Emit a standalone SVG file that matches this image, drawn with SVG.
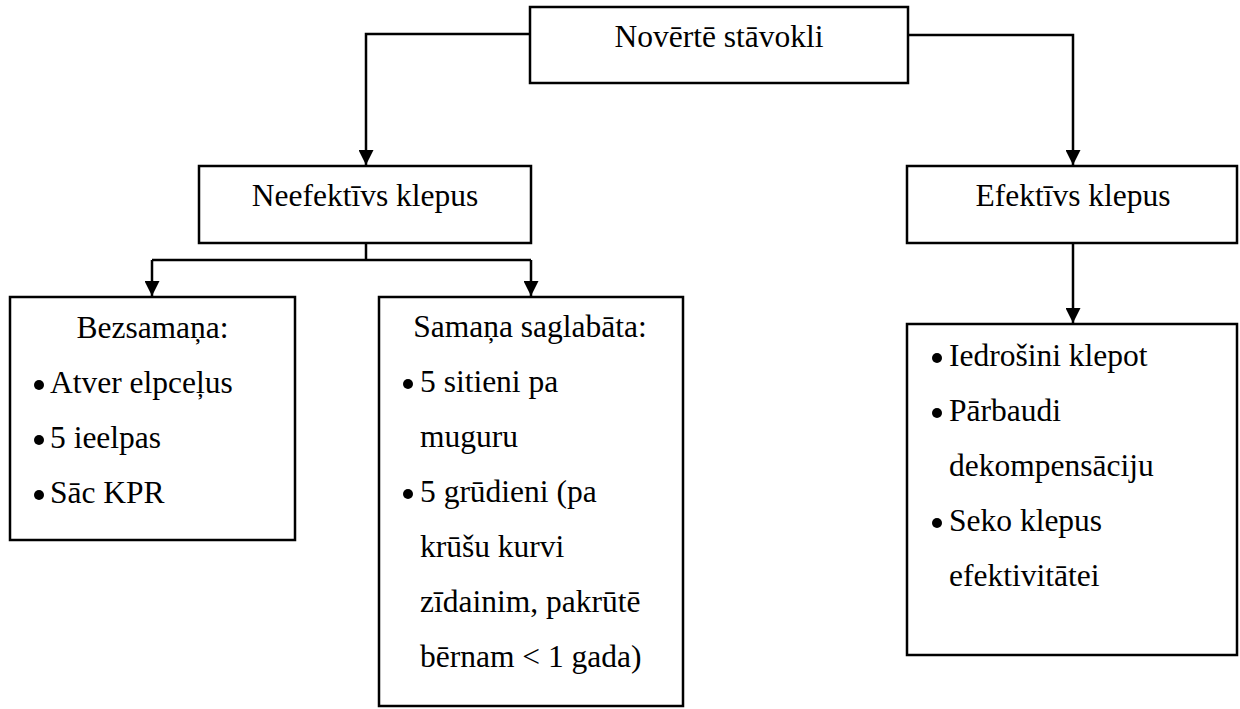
<svg xmlns="http://www.w3.org/2000/svg" width="1240" height="709" viewBox="0 0 1240 709">
  <style>
    .box { fill: #ffffff; stroke: #000000; stroke-width: 2.5; }
    .lbl { font-family: 'Liberation Serif', 'Times New Roman', serif; font-size: 31.5px; fill: #000000; }
    .mid { text-anchor: middle; }
    .wire { fill: none; stroke: #000000; stroke-width: 2.5; }
    .dot { fill: #000000; }
  </style>
  <defs>
    <marker id="arrow" markerWidth="15" markerHeight="15" viewBox="0 0 15 15" refX="15" refY="7.5" orient="auto" markerUnits="userSpaceOnUse">
      <path d="M0,0 L15,7.5 L0,15 Z" fill="#000000"/>
    </marker>
  </defs>

  <!-- connectors -->
  <g id="connectors">
    <path class="wire" d="M530,34 H366 V165" marker-end="url(#arrow)"/>
    <path class="wire" d="M908,35 H1073 V165" marker-end="url(#arrow)"/>
    <path class="wire" d="M366,224 V260"/>
    <path class="wire" d="M152,260 H531"/>
    <path class="wire" d="M152,260 V296" marker-end="url(#arrow)"/>
    <path class="wire" d="M531,260 V296" marker-end="url(#arrow)"/>
    <path class="wire" d="M1073,224 V323" marker-end="url(#arrow)"/>
  </g>

  <!-- root -->
  <g id="assess">
    <rect class="box" x="530" y="7" width="378" height="76"/>
    <text class="lbl mid" x="719" y="47">Novērtē stāvokli</text>
  </g>

  <g id="ineffective">
    <rect class="box" x="199" y="166" width="332" height="77"/>
    <text class="lbl mid" x="365" y="206">Neefektīvs klepus</text>
  </g>

  <g id="effective">
    <rect class="box" x="907" y="166" width="330" height="77"/>
    <text class="lbl mid" x="1073" y="206">Efektīvs klepus</text>
  </g>

  <!-- unconscious -->
  <g id="unconscious">
    <rect class="box" x="10" y="297" width="285" height="243"/>
    <text class="lbl mid" x="152.5" y="338">Bezsamaņa:</text>
    <circle class="dot" cx="39" cy="385" r="5"/>
    <text class="lbl" x="50" y="393">Atver elpceļus</text>
    <circle class="dot" cx="39" cy="440" r="5"/>
    <text class="lbl" x="50" y="448">5 ieelpas</text>
    <circle class="dot" cx="39" cy="495" r="5"/>
    <text class="lbl" x="50" y="503">Sāc KPR</text>
  </g>

  <!-- conscious -->
  <g id="conscious">
    <rect class="box" x="379" y="297" width="304" height="409"/>
    <text class="lbl mid" x="530" y="337">Samaņa saglabāta:</text>
    <circle class="dot" cx="408" cy="384" r="5"/>
    <text class="lbl" x="420" y="392">5 sitieni pa</text>
    <text class="lbl" x="420" y="447">muguru</text>
    <circle class="dot" cx="408" cy="494" r="5"/>
    <text class="lbl" x="420" y="502">5 grūdieni (pa</text>
    <text class="lbl" x="420" y="557">krūšu kurvi</text>
    <text class="lbl" x="420" y="612">zīdainim, pakrūtē</text>
    <text class="lbl" x="420" y="667">bērnam &lt; 1 gada)</text>
  </g>

  <!-- effective cough actions -->
  <g id="encourage">
    <rect class="box" x="907" y="324" width="330" height="331"/>
    <circle class="dot" cx="937" cy="358" r="5"/>
    <text class="lbl" x="949" y="366">Iedrošini klepot</text>
    <circle class="dot" cx="937" cy="413" r="5"/>
    <text class="lbl" x="949" y="421">Pārbaudi</text>
    <text class="lbl" x="949" y="476">dekompensāciju</text>
    <circle class="dot" cx="937" cy="523" r="5"/>
    <text class="lbl" x="949" y="531">Seko klepus</text>
    <text class="lbl" x="949" y="586">efektivitātei</text>
  </g>
</svg>
